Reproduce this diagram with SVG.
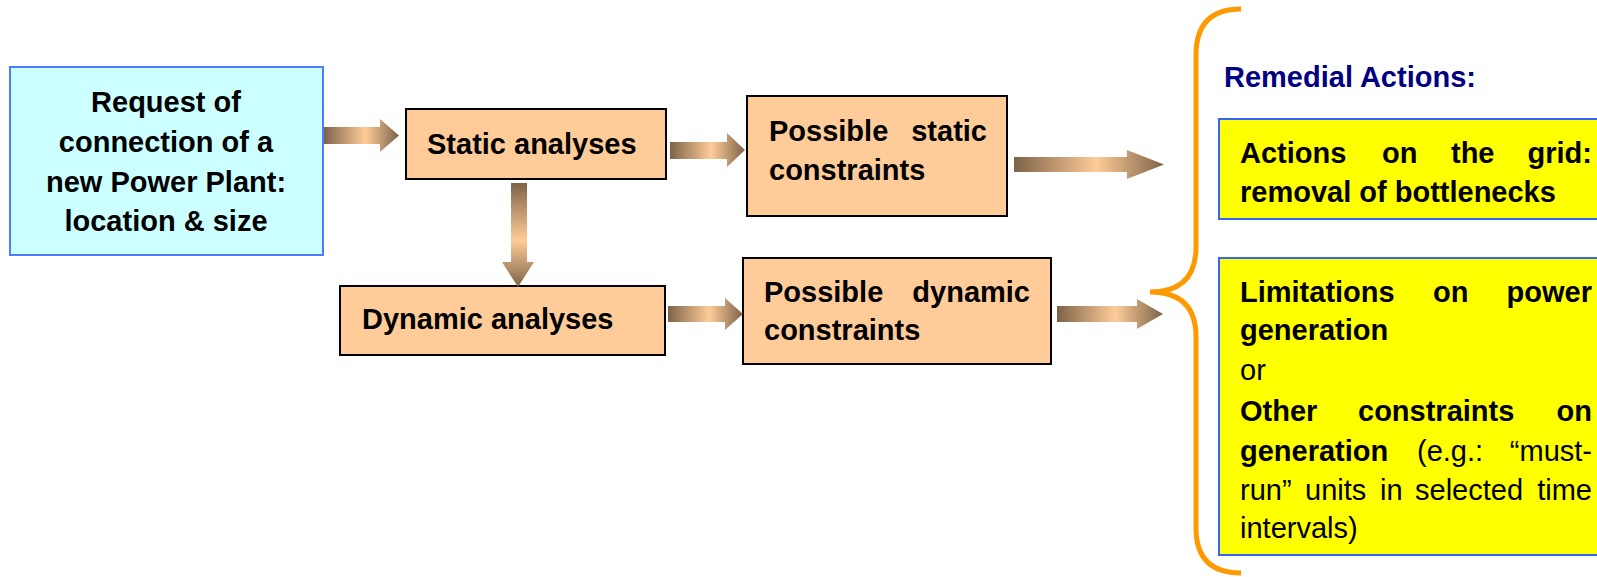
<svg xmlns="http://www.w3.org/2000/svg" width="1597" height="577" viewBox="0 0 1597 577">
<style>
text{font-family:"Liberation Sans",Arial,sans-serif;font-size:29px;fill:#000}
.b{font-weight:bold}
.n{font-weight:normal}
.e{text-anchor:end}
.m{text-anchor:middle}
.node{fill:#FFCC99;stroke:#000;stroke-width:2}
.req{fill:#CCFFFF;stroke:#4D7CFF;stroke-width:2}
.yel{fill:#FFFF00;stroke:#3366FF;stroke-width:2}
.h{fill:url(#gh)}
.v{fill:url(#gv)}
</style>
<defs>
<linearGradient id="gh" x1="0" y1="0" x2="1" y2="0">
<stop offset="0" stop-color="#7D6348"/>
<stop offset="0.55" stop-color="#FFCC99"/>
<stop offset="1" stop-color="#7D6348"/>
</linearGradient>
<linearGradient id="gv" x1="0" y1="0" x2="0" y2="1">
<stop offset="0" stop-color="#7D6348"/>
<stop offset="0.55" stop-color="#FFCC99"/>
<stop offset="1" stop-color="#7D6348"/>
</linearGradient>
</defs>
<rect width="1597" height="577" fill="#fff"/>

<g id="request">
<rect class="req" x="10" y="67" width="313" height="188"/>
<text class="b m" x="166" y="112">Request of</text>
<text class="b m" x="166" y="152">connection of a</text>
<text class="b m" x="166" y="192">new Power Plant:</text>
<text class="b m" x="166" y="231">location &amp; size</text>
</g>

<g id="static">
<rect class="node" x="406" y="109" width="260" height="70"/>
<text class="b" x="427" y="154">Static analyses</text>
</g>

<g id="dynamic">
<rect class="node" x="340" y="286" width="325" height="69"/>
<text class="b" x="362" y="329">Dynamic analyses</text>
</g>

<g id="possible-static">
<rect class="node" x="747" y="96" width="260" height="120"/>
<text class="b" x="769" y="141">Possible</text>
<text class="b e" x="987" y="141">static</text>
<text class="b" x="769" y="180">constraints</text>
</g>

<g id="possible-dynamic">
<rect class="node" x="743" y="258" width="308" height="106"/>
<text class="b" x="764" y="302">Possible</text>
<text class="b e" x="1030" y="302">dynamic</text>
<text class="b" x="764" y="340">constraints</text>
</g>

<g id="connectors">
<polygon class="h" points="324,127 380,127 380,119 399,135.5 380,152 380,144 324,144"/>
<polygon class="h" points="670,142 727,142 727,133 745,150 727,167 727,159 670,159"/>
<polygon class="v" points="511,183 527,183 527,262 534,262 518,287 502,262 511,262"/>
<polygon class="h" points="668,306 725,306 725,298 743,314 725,330 725,322 668,322"/>
<polygon class="h" points="1014,157 1127,157 1127,150 1164,164.5 1127,179 1127,172 1014,172"/>
<polygon class="h" points="1057,306 1137,306 1137,299 1163,314 1137,329 1137,322 1057,322"/>
</g>

<g id="brace">
<path d="M1241,9 Q1196,9 1196,55 L1196,247 Q1196,292 1150,292 Q1196,292 1196,337 L1196,528 Q1196,573 1241,573" fill="none" stroke="#FF9900" stroke-width="5"/>
</g>

<g id="remedial">
<text x="1224" y="87" style="font-weight:bold;fill:#000080">Remedial Actions:</text>
</g>

<g id="grid-actions">
<rect class="yel" x="1219" y="119" width="400" height="100"/>
<text class="b" x="1240" y="163">Actions</text>
<text class="b" x="1382" y="163">on</text>
<text class="b" x="1451" y="163">the</text>
<text class="b e" x="1592" y="163">grid:</text>
<text class="b" x="1240" y="202">removal of bottlenecks</text>
</g>

<g id="generation-limits">
<rect class="yel" x="1219" y="258" width="400" height="297"/>
<text class="b" x="1240" y="302">Limitations</text>
<text class="b" x="1433" y="302">on</text>
<text class="b e" x="1592" y="302">power</text>
<text class="b" x="1240" y="340">generation</text>
<text class="n" x="1240" y="380">or</text>
<text class="b" x="1240" y="421">Other</text>
<text class="b" x="1358" y="421">constraints</text>
<text class="b e" x="1592" y="421">on</text>
<text class="b" x="1240" y="461">generation</text>
<text class="n" x="1417" y="461">(e.g.:</text>
<text class="n e" x="1592" y="461">“must-</text>
<text class="n" x="1240" y="500">run”</text>
<text class="n" x="1305" y="500">units</text>
<text class="n" x="1380" y="500">in</text>
<text class="n" x="1415" y="500">selected</text>
<text class="n e" x="1592" y="500">time</text>
<text class="n" x="1240" y="538">intervals)</text>
</g>
</svg>
